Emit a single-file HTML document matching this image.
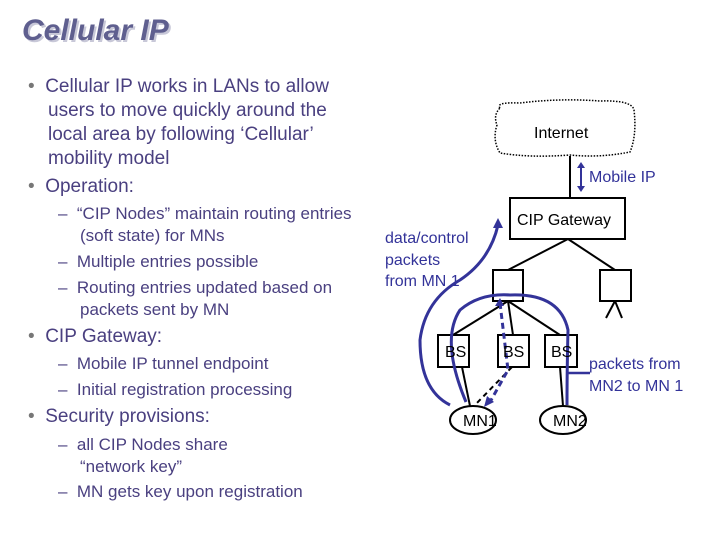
<!DOCTYPE html>
<html><head><style>
body{margin:0;width:720px;height:540px;background:#fff;overflow:hidden;position:relative;font-family:"Liberation Sans",sans-serif}
.t{position:absolute;white-space:nowrap;color:#4a4080}
.h{position:absolute;left:22px;top:14px;font-size:30px;font-style:italic;font-weight:bold;color:#5f5f8f;text-shadow:2px 2px 0 #c8c8d8}
b{font-weight:normal;color:#777}
</style></head><body>
<div class="h">Cellular IP</div>
<div class="t" style="left:28px;top:75px;font-size:19px;line-height:24px"><b>•</b>&nbsp;&nbsp;Cellular IP works in LANs to allow</div>
<div class="t" style="left:48px;top:99px;font-size:19px;line-height:24px">users to move quickly around the<br>local area by following ‘Cellular’<br>mobility model</div>
<div class="t" style="left:28px;top:175px;font-size:19px;line-height:24px"><b>•</b>&nbsp;&nbsp;Operation:</div>
<div class="t" style="left:58px;top:203px;font-size:17px;line-height:22px">–&nbsp;&nbsp;“CIP Nodes” maintain routing entries</div>
<div class="t" style="left:80px;top:225px;font-size:17px;line-height:22px">(soft state) for MNs</div>
<div class="t" style="left:58px;top:251px;font-size:17px;line-height:22px">–&nbsp;&nbsp;Multiple entries possible</div>
<div class="t" style="left:58px;top:277px;font-size:17px;line-height:22px">–&nbsp;&nbsp;Routing entries updated based on</div>
<div class="t" style="left:80px;top:299px;font-size:17px;line-height:22px">packets sent by MN</div>
<div class="t" style="left:28px;top:325px;font-size:19px;line-height:24px"><b>•</b>&nbsp;&nbsp;CIP Gateway:</div>
<div class="t" style="left:58px;top:353px;font-size:17px;line-height:22px">–&nbsp;&nbsp;Mobile IP tunnel endpoint</div>
<div class="t" style="left:58px;top:379px;font-size:17px;line-height:22px">–&nbsp;&nbsp;Initial registration processing</div>
<div class="t" style="left:28px;top:405px;font-size:19px;line-height:24px"><b>•</b>&nbsp;&nbsp;Security provisions:</div>
<div class="t" style="left:58px;top:434px;font-size:17px;line-height:22px">–&nbsp;&nbsp;all CIP Nodes share</div>
<div class="t" style="left:80px;top:456px;font-size:17px;line-height:22px">“network key”</div>
<div class="t" style="left:58px;top:481px;font-size:17px;line-height:22px">–&nbsp;&nbsp;MN gets key upon registration</div>

<svg width="720" height="540" style="position:absolute;left:0;top:0">
<path d="M500,108 Q495,102 520,103 Q560,98 600,101 Q632,100 634,110 Q637,135 630,152 Q600,158 570,155 Q530,158 500,153 Q492,140 497,125 Q493,115 500,108Z" fill="none" stroke="#000" stroke-width="1.5" stroke-dasharray="1.5,1.5"/>
<g stroke="#000" stroke-width="2" fill="none">
<line x1="570" y1="156" x2="570" y2="198"/>
<rect x="510" y="198" width="115" height="41" fill="#fff"/>
<line x1="568" y1="239" x2="508" y2="270"/>
<line x1="568" y1="239" x2="615" y2="270"/>
<rect x="493" y="270" width="30" height="31"/>
<rect x="600" y="270" width="31" height="31"/>
<line x1="615" y1="301" x2="606" y2="318"/><line x1="615" y1="301" x2="622" y2="318"/>
<line x1="508" y1="301" x2="453" y2="335"/>
<line x1="508" y1="301" x2="513" y2="335"/>
<line x1="508" y1="301" x2="560" y2="335"/>
<rect x="438" y="335" width="31" height="32"/>
<rect x="498" y="335" width="31" height="32"/>
<rect x="545" y="335" width="32" height="32"/>
<line x1="462" y1="367" x2="470" y2="406"/>
<line x1="512" y1="367" x2="474" y2="406" stroke-dasharray="5,4"/>
<line x1="560" y1="367" x2="563" y2="406"/>
<ellipse cx="473" cy="420" rx="23" ry="14"/>
<ellipse cx="563" cy="420" rx="23" ry="14"/>
</g>
<g stroke="#333399" stroke-width="3" fill="none">
<path d="M450,405 Q420,390 420,340 Q425,300 460,280 Q490,260 498,225"/>
<path d="M466,402 Q440,340 460,310 Q480,293 510,295 Q560,293 568,330 Q567,370 567,405"/>
<path d="M500,303 L508,370 L490,402" stroke-dasharray="6,4"/>
<line x1="568" y1="373" x2="590" y2="373" stroke-width="2.5"/>
<line x1="581" y1="166" x2="581" y2="188" stroke-width="2"/>
</g>
<g fill="#333399">
<polygon points="498,218 493,228 503,228"/>
<polygon points="581,162 577,168 585,168"/><polygon points="581,192 577,186 585,186"/>
<polygon points="484,407 487,396 494,402"/>
<polygon points="500,298 495,306 504,306"/>
</g>
<g font-family="Liberation Sans,sans-serif" font-size="16" fill="#000">
<text x="534" y="138">Internet</text>
<text x="517" y="225">CIP Gateway</text>
<text x="445" y="357">BS</text><text x="503" y="357">BS</text><text x="551" y="357">BS</text>
<text x="463" y="426">MN1</text><text x="553" y="426">MN2</text>
</g>
<g font-family="Liberation Sans,sans-serif" font-size="16" fill="#333399">
<text x="589" y="182">Mobile IP</text>
<text x="385" y="243">data/control</text><text x="385" y="265">packets</text><text x="385" y="286">from MN 1</text>
<text x="589" y="369">packets from</text><text x="589" y="391">MN2 to MN 1</text>
</g>
</svg>
</body></html>
